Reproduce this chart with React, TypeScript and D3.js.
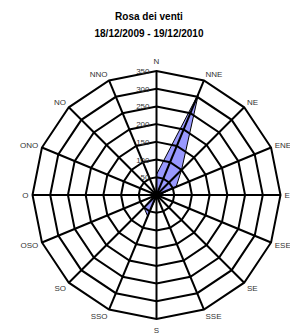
import React from "react";
import * as d3 from "d3";

const titleLines = ["Rosa dei venti", "18/12/2009 - 19/12/2010"];
const directions = ["N", "NNE", "NE", "ENE", "E", "ESE", "SE", "SSE", "S", "SSO", "SO", "OSO", "O", "ONO", "NO", "NNO"];
const values = [58, 310, 100, 60, 8, 4, 4, 4, 4, 65, 50, 8, 4, 4, 4, 4];
const ringTicks = [50, 100, 150, 200, 250, 300, 350];

export default function App() {
  const W = 290, H = 334;
  const cx = 156.5, cy = 195, R = 124;
  const r = d3.scaleLinear().domain([0, 350]).range([0, R]);
  const ang = d3.scaleLinear().domain([0, directions.length]).range([0, 2 * Math.PI]);
  const radial = d3.lineRadial<number>()
    .angle((_, i) => ang(i))
    .radius((d) => r(d))
    .curve(d3.curveLinearClosed);

  const pt = (i: number, rad: number) => [Math.sin(ang(i)) * rad, -Math.cos(ang(i)) * rad];

  return (
    <svg width={W} height={H} style={{ position: "absolute", left: 0, top: 0, background: "#fff" }}>
      <g fontFamily="'Liberation Sans', Arial, sans-serif" fontWeight="bold" fontSize={10} textAnchor="middle" fill="#000">
        {titleLines.map((t, i) => (
          <text key={i} x={149} y={20 + i * 16.5}>{t}</text>
        ))}
      </g>
      <g transform={`translate(${cx},${cy})`}>
        <path d={radial(values) || ""} fill="#9999ff" stroke="#000" strokeWidth={1} />
        {ringTicks.map((t) => (
          <path key={t} d={radial(directions.map(() => t)) || ""} fill="none" stroke="#000" strokeWidth={2} />
        ))}
        {directions.map((d, i) => {
          const [x, y] = pt(i, R);
          return <line key={d} x1={0} y1={0} x2={x} y2={y} stroke="#000" strokeWidth={2} />;
        })}
        <g fontFamily="'Liberation Sans', Arial, sans-serif" fontSize={8} fill="#333" textAnchor="end">
          {ringTicks.map((t) => (
            <text key={t} x={-7} y={-r(t) + 3}>{t}</text>
          ))}
        </g>
        <g fontFamily="'Liberation Sans', Arial, sans-serif" fontSize={8} fill="#333">
          {directions.map((d, i) => {
            const a = ang(i);
            const s = Math.sin(a), c = Math.cos(a);
            const [x, y] = pt(i, R + 4);
            const anchor = Math.abs(s) < 0.1 ? "middle" : s > 0 ? "start" : "end";
            const dy = Math.abs(s) < 0.1 ? (c > 0 ? -3 : 10) : 2.9 - c * 3;
            return (
              <text key={d} x={x} y={y + dy} textAnchor={anchor}>{d}</text>
            );
          })}
        </g>
      </g>
    </svg>
  );
}
